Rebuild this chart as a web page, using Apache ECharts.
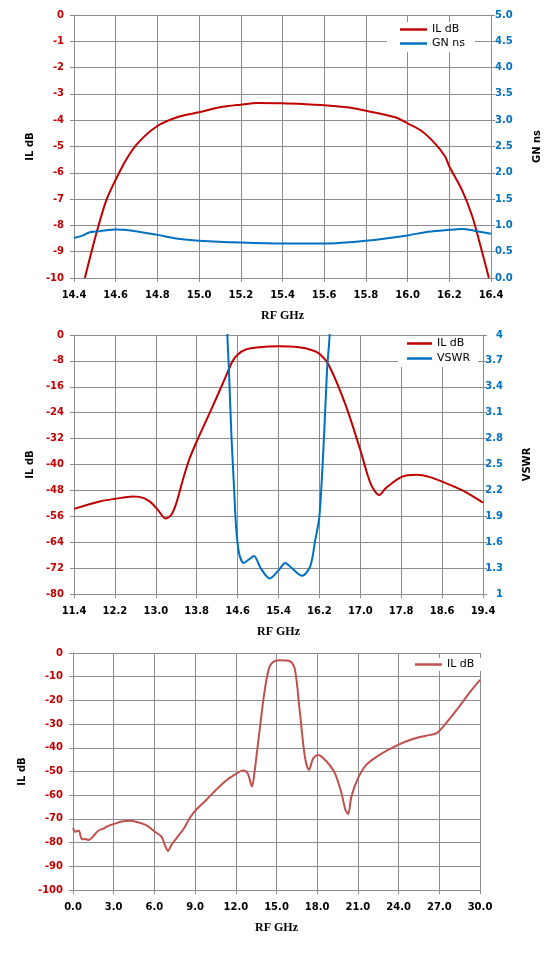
<!DOCTYPE html>
<html lang="en">
<head>
<meta charset="UTF-8">
<title>IL / GN / VSWR</title>
<script src="https://cdn.jsdelivr.net/npm/echarts@6/dist/echarts.min.js"></script>
<style>
  html, body { margin: 0; padding: 0; background: #fff; }
  #main { width: 560px; height: 953px; }
</style>
</head>
<body>
<div id="main"></div>
<script type="text/javascript">
    // ---- top chart: passband IL and group delay ----
    var topIlFreq = [14.452, 14.508, 14.556, 14.6, 14.65, 14.706, 14.8, 14.905, 15.0, 15.1, 15.2, 15.28, 15.4, 15.55, 15.6, 15.71, 15.8, 15.94, 16.0, 16.064, 16.13, 16.18, 16.2, 16.26, 16.31, 16.35, 16.39];
    var topIl = [-10, -8.28, -7.02, -6.26, -5.5, -4.87, -4.22, -3.86, -3.7, -3.51, -3.41, -3.35, -3.36, -3.41, -3.43, -3.51, -3.64, -3.89, -4.12, -4.39, -4.87, -5.38, -5.76, -6.64, -7.65, -8.79, -10];
    var topGnFreq = [14.4, 14.444, 14.476, 14.524, 14.6, 14.68, 14.8, 14.9, 15.0, 15.2, 15.4, 15.6, 15.8, 16.0, 16.1, 16.2, 16.26, 16.32, 16.4];
    var topGn = [0.76, 0.81, 0.87, 0.89, 0.92, 0.90, 0.82, 0.745, 0.71, 0.675, 0.657, 0.657, 0.71, 0.81, 0.88, 0.915, 0.93, 0.90, 0.84];

    // ---- middle chart: IL and VSWR ----
    var midIlFreq = [11.4, 11.9, 12.2, 12.55, 12.68, 12.88, 13.04, 13.19, 13.3, 13.4, 13.53, 13.65, 13.8, 14.11, 14.37, 14.5, 14.6, 14.76, 15.02, 15.4, 15.8, 16.06, 16.2, 16.38, 16.71, 17.0, 17.2, 17.37, 17.5, 17.8, 18.1, 18.36, 18.6, 19.0, 19.4];
    var midIl = [-53.7, -51.4, -50.6, -49.9, -50.0, -51.4, -54.0, -56.7, -55.6, -52.0, -44.7, -38.6, -32.9, -22.1, -12.8, -8.1, -6.1, -4.5, -3.8, -3.5, -3.8, -4.7, -5.8, -9.2, -21.5, -35.5, -45.8, -49.4, -47.3, -43.9, -43.2, -43.9, -45.3, -48.0, -51.8];
    var midVswrFreq = [14.39, 14.4, 14.43, 14.48, 14.53, 14.57, 14.63, 14.72, 14.82, 14.92, 15.05, 15.23, 15.41, 15.53, 15.66, 15.86, 16.02, 16.12, 16.2, 16.29, 16.35, 16.4, 16.41];
    var midVswr = [4.4, 4.0, 3.6, 2.82, 2.24, 1.78, 1.47, 1.36, 1.40, 1.44, 1.30, 1.18, 1.28, 1.36, 1.30, 1.21, 1.32, 1.63, 1.9, 2.82, 3.6, 4.0, 4.4];

    // ---- bottom chart: wideband IL ----
    var wideFreq = [0, 0.17, 0.42, 0.66, 0.9, 1.15, 1.51, 1.88, 2.25, 2.49, 3.05, 3.59, 4.2, 4.69, 5.42, 6.03, 6.52, 6.77, 7.01, 7.25, 7.62, 8.11, 8.6, 9.01, 9.82, 10.55, 11.29, 12.02, 12.51, 12.87, 13.19, 13.37, 13.73, 14.1, 14.42, 14.7, 15.2, 16.0, 16.36, 16.73, 17.09, 17.39, 17.71, 18.07, 18.69, 19.3, 19.79, 20.08, 20.28, 20.52, 21.01, 21.62, 22.6, 24.0, 25.05, 26.03, 26.64, 26.96, 27.5, 28.48, 29.2, 30.0];
    var wideIl = [-73.9, -75.4, -74.9, -78.6, -78.5, -78.9, -77.2, -74.9, -74.1, -73.2, -72.1, -71.1, -70.8, -71.3, -72.7, -75.4, -77.5, -81.0, -83.5, -81.0, -78.2, -74.6, -69.7, -66.5, -62.0, -57.7, -53.8, -51.0, -49.6, -50.7, -56.3, -50.7, -33.8, -16.9, -7.0, -4.0, -3.1, -3.5, -7.0, -25.4, -43.7, -49.3, -44.4, -43.0, -45.8, -50.7, -59.2, -66.2, -67.9, -60.6, -52.8, -47.2, -43.0, -38.7, -36.3, -34.9, -34.2, -33.1, -29.6, -22.5, -16.9, -11.3];

    var RED = '#C00000', BLUE = '#0070C0', WIDE_RED = '#C0504D', GRID = '#8C8C8C';

    function pairs(xs, ys) {
        return xs.map(function (x, i) { return [x, ys[i]]; });
    }

    var labelFont = { fontFamily: 'DejaVu Sans', fontWeight: 'bold', fontSize: 10 };

    function xAxis(gridIndex, min, max, interval) {
        return {
            type: 'value', gridIndex: gridIndex, min: min, max: max, interval: interval,
            name: 'RF GHz', nameLocation: 'middle', nameGap: 32,
            nameTextStyle: { fontFamily: 'Liberation Serif', fontWeight: 'bold', fontSize: 12, color: '#000' },
            axisLine: { onZero: false, lineStyle: { color: GRID } },
            axisTick: { show: true, length: 4, lineStyle: { color: GRID } },
            axisLabel: Object.assign({ color: '#000', margin: 12, formatter: function (v) { return v.toFixed(1); } }, labelFont),
            splitLine: { show: true, lineStyle: { color: GRID, width: 1 } }
        };
    }

    function yAxis(gridIndex, pos, name, gap, min, max, interval, color, fmt, labelOpts) {
        return {
            type: 'value', gridIndex: gridIndex, position: pos, min: min, max: max, interval: interval,
            name: name, nameLocation: 'middle', nameGap: gap, nameRotate: 90,
            nameTextStyle: { fontFamily: 'DejaVu Sans', fontWeight: 'bold', fontSize: 10, color: '#000' },
            axisLine: { show: true, onZero: false, lineStyle: { color: GRID } },
            axisTick: { show: true, length: 4, lineStyle: { color: GRID } },
            axisLabel: Object.assign({ color: color, formatter: fmt }, labelFont, labelOpts || {}),
            splitLine: { show: pos === 'left', lineStyle: { color: GRID, width: 1 } }
        };
    }

    function line(name, x, y, data, color, width) {
        return {
            name: name, type: 'line', xAxisIndex: x, yAxisIndex: y, data: data,
            symbol: 'none', smooth: 0.3, clip: true,
            lineStyle: { color: color, width: width || 2 },
            itemStyle: { color: color }
        };
    }

    // legend: plain line samples, white box over the grid
    var legendBase = {
        orient: 'vertical', icon: 'rect', itemWidth: 27, itemHeight: 2.5, itemGap: 3,
        backgroundColor: '#fff',
        textStyle: { fontFamily: 'DejaVu Sans', fontSize: 11, color: '#000' },
        formatter: function (n) { return n.replace(/ #\d$/, ''); }
    };

    var myChart = echarts.init(document.getElementById('main'), null, { renderer: 'canvas' });

    var option = {
        animation: false,
        backgroundColor: '#fff',
        grid: [
            { left: 74, top: 15, width: 417, height: 263 },
            { left: 74, top: 335, width: 409, height: 259 },
            { left: 73, top: 653, width: 407, height: 237 }
        ],
        legend: [
            Object.assign({}, legendBase, { data: ['IL dB', 'GN ns'], left: 387, top: 22, padding: [2, 10, 3, 13] }),
            Object.assign({}, legendBase, { data: ['IL dB #2', 'VSWR'], left: 398, top: 336, padding: [2, 8, 3, 9], itemWidth: 25, itemGap: 4 }),
            Object.assign({}, legendBase, { data: ['IL dB #3'], left: 405, top: 658, padding: [1, 8, 1, 10] })
        ],
        xAxis: [
            xAxis(0, 14.4, 16.4, 0.2),
            xAxis(1, 11.4, 19.4, 0.8),
            xAxis(2, 0, 30, 3)
        ],
        yAxis: [
            yAxis(0, 'left', 'IL dB', 36, -10, 0, 1, RED, null, { margin: 10 }),
            yAxis(0, 'right', 'GN ns', 41, 0, 5, 0.5, BLUE, function (v) { return v.toFixed(1); }, { margin: 4 }),
            yAxis(1, 'left', 'IL dB', 36, -80, 0, 8, RED, null, { margin: 10 }),
            yAxis(1, 'right', 'VSWR', 39, 1, 4, 0.3, BLUE, function (v) { return String(Math.round(v * 10) / 10); }, { margin: 20, align: 'right' }),
            yAxis(2, 'left', 'IL dB', 43, -100, 0, 10, RED, null, { margin: 10 })
        ],
        series: [
            line('IL dB', 0, 0, pairs(topIlFreq, topIl), RED),
            line('GN ns', 0, 1, pairs(topGnFreq, topGn), BLUE),
            line('IL dB #2', 1, 2, pairs(midIlFreq, midIl), RED),
            line('VSWR', 1, 3, pairs(midVswrFreq, midVswr), BLUE),
            line('IL dB #3', 2, 4, pairs(wideFreq, wideIl), WIDE_RED)
        ]
    };

    myChart.setOption(option);
</script>
</body>
</html>
